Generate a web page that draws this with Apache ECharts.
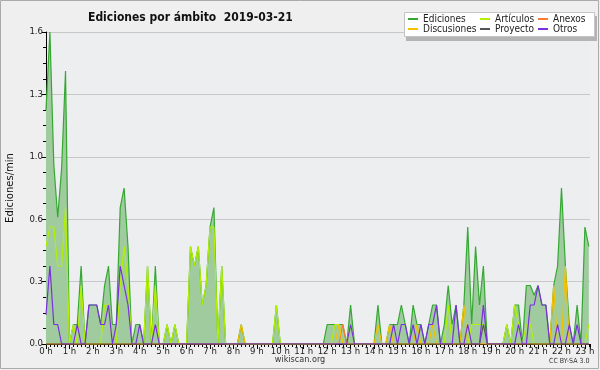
<!DOCTYPE html>
<html><head><meta charset="utf-8">
<script src="https://cdn.jsdelivr.net/npm/echarts@6/dist/echarts.min.js"></script>
<style>html,body{margin:0;padding:0;background:#efefef}#c{width:600px;height:370px}</style>
</head><body><div id="c"></div>
<script>
// 10-minute slots starting at 00:00
const hourLabels = ['0 h','1 h','2 h','3 h','4 h','5 h','6 h','7 h','8 h','9 h','10 h','11 h','12 h','13 h','14 h','15 h','16 h','17 h','18 h','19 h','20 h','21 h','22 h','23 h'];

const ediciones = [
1.2,1.6,0.92,0.65,0.9,1.4,0,0.1,0.1,0.4,
0,0.2,0.2,0.2,0.1,0.3,0.4,0.1,0.1,0.7,
0.8,0.5,0,0.1,0.1,0,0.4,0,0.4,0,
0,0.1,0,0.1,0,0,0,0.5,0.4,0.5,
0.2,0.3,0.6,0.7,0,0.4,0,0,0,0,
0.1,0,0,0,0,0,0,0,0,0.2,
0,0,0,0,0,0,0,0,0,0,
0,0,0.1,0.1,0.1,0.1,0.1,0,0.2,0,
0,0,0,0,0,0.2,0,0,0.1,0.1,
0.1,0.2,0.1,0,0.2,0.1,0.1,0,0.1,0.2,
0.2,0,0.1,0.3,0.1,0.2,0,0.2,0.6,0.1,
0.5,0.2,0.4,0,0,0,0,0,0.1,0,
0.2,0.2,0,0.3,0.3,0.25,0.3,0.2,0.2,0,
0.3,0.4,0.8,0.4,0.1,0,0.2,0,0.6,0.5
];
const articulos = [
0.5,0.6,0.6,0.4,0.4,0.7,0,0.1,0,0.3,
0,0,0,0,0,0.2,0.2,0,0,0.3,
0.5,0.3,0,0,0,0,0.4,0,0.3,0,
0,0.1,0,0.1,0,0,0,0.5,0.4,0.5,
0.2,0.3,0.6,0.6,0,0.4,0,0,0,0,
0,0,0,0,0,0,0,0,0,0.2,
0,0,0,0,0,0,0,0,0,0,
0,0,0,0,0.1,0.1,0,0,0.1,0,
0,0,0,0,0,0,0,0,0,0,
0,0,0,0,0,0,0,0,0,0,
0,0,0,0.2,0,0,0,0,0,0.1,
0.1,0.1,0.1,0,0,0,0,0,0.1,0,
0.2,0.1,0,0.1,0.1,0,0,0,0,0,
0,0,0,0,0,0,0,0,0,0.1
];
const anexos = [
0,0,0,0,0,0,0,0,0,0,
0,0,0,0,0,0,0,0,0,0,
0,0,0,0,0,0,0,0,0,0,
0,0,0,0,0,0,0,0,0,0,
0,0,0,0,0,0,0,0,0,0,
0,0,0,0,0,0,0,0,0,0,
0,0,0,0,0,0,0,0,0,0,
0,0,0,0,0,0,0.1,0,0,0,
0,0,0,0,0,0,0,0,0,0,
0,0,0,0,0,0,0,0,0,0,
0,0,0,0,0,0,0,0,0,0,
0,0,0,0,0,0,0,0,0,0,
0,0,0,0,0,0,0,0,0,0,
0,0,0,0,0,0,0,0,0,0
];
const discusiones = [
0,0,0,0,0,0,0,0,0,0,
0,0,0,0,0,0,0,0,0,0,
0,0,0,0,0,0,0,0,0,0,
0,0,0,0,0,0,0,0,0,0,
0,0,0,0,0,0,0,0,0,0,
0.1,0,0,0,0,0,0,0,0,0,
0,0,0,0,0,0,0,0,0,0,
0,0,0,0,0,0.1,0,0,0,0,
0,0,0,0,0,0.1,0,0,0.1,0,
0,0,0,0,0,0.1,0,0,0,0.1,
0,0,0,0,0,0,0,0.2,0,0,
0,0,0,0,0,0,0,0,0,0,
0,0,0,0,0,0,0,0,0,0,
0.3,0,0,0.4,0,0,0,0,0,0
];
const proyecto = [
0,0,0,0,0,0,0,0,0,0,
0,0,0,0,0,0,0,0,0,0,
0,0,0,0,0,0,0,0,0,0,
0,0,0,0,0,0,0,0,0,0,
0,0,0,0,0,0,0,0,0,0,
0,0,0,0,0,0,0,0,0,0,
0,0,0,0,0,0,0,0,0,0,
0,0,0,0,0,0,0,0,0,0,
0,0,0,0,0,0,0,0,0,0,
0,0,0,0,0,0,0,0,0,0,
0,0,0,0,0,0,0,0,0,0,
0,0,0.1,0,0,0,0,0,0,0,
0,0,0,0,0,0,0,0,0,0,
0,0,0,0,0,0,0,0,0,0
];
const otros = [
0.15,0.4,0.1,0.1,0,0,0,0,0.1,0,
0,0.2,0.2,0.2,0.1,0.1,0.2,0,0.1,0.4,
0.3,0.2,0,0,0.1,0,0,0,0.1,0,
0,0,0,0,0,0,0,0,0,0,
0,0,0,0,0,0,0,0,0,0,
0,0,0,0,0,0,0,0,0,0,
0,0,0,0,0,0,0,0,0,0,
0,0,0,0,0,0,0,0,0.1,0,
0,0,0,0,0,0,0,0,0,0.1,
0,0.1,0.1,0,0.1,0,0.1,0,0.1,0.1,
0.2,0,0,0,0,0.2,0,0,0.1,0,
0,0,0.2,0,0,0,0,0,0,0,
0,0.1,0,0,0.2,0.2,0.3,0.2,0.2,0,
0,0.1,0,0,0.1,0,0.1,0,0,0
];

const COL = {
  ed: '#35a832', art: '#b4f000', anx: '#ff7a30', disc: '#f5c000', proy: '#555555', otr: '#7b2fe0'
};
const pairs = arr => arr.map((v, i) => [i, v]);
const FONT = '"DejaVu Sans Condensed", "Liberation Sans", sans-serif';

function lineSeries(name, data, color, extra) {
  return Object.assign({
    name, type: 'line', data: pairs(data), showSymbol: false, symbol: 'none',
    lineStyle: { color, width: 1.2 }, itemStyle: { color }, animation: false, z: 3
  }, extra || {});
}

const chart = echarts.init(document.getElementById('c'), null, { renderer: 'canvas' });
const legendCommon = {
  orient: 'vertical', top: 14, itemGap: 0, itemWidth: 10, itemHeight: 2, icon: 'rect', z: 5,
  textStyle: { fontFamily: FONT, fontSize: 10, color: '#222' }, selectedMode: false, padding: 0
};
chart.setOption({
  backgroundColor: '#efefef',
  animation: false,
  title: {
    text: 'Ediciones por ámbito  2019-03-21', left: 83, top: 7,
    textStyle: { fontFamily: FONT, fontSize: 12, fontWeight: 'bold', color: '#111' }
  },
  legend: [
    Object.assign({ left: 408, data: ['Ediciones', 'Discusiones'] }, legendCommon),
    Object.assign({ left: 480, data: ['Artículos', 'Proyecto'] }, legendCommon),
    Object.assign({ left: 538, data: ['Anexos', 'Otros'] }, legendCommon)
  ],
  graphic: [
    { type: 'rect', z: -1, silent: true, shape: { x: 0.5, y: 0.5, width: 598, height: 368 }, style: { fill: 'none', stroke: '#aaa', lineWidth: 1 } },
    { type: 'rect', z: 0, silent: true, shape: { x: 406, y: 16, width: 191, height: 25 }, style: { fill: '#b4b4b4' } },
    { type: 'rect', z: 1, silent: true, shape: { x: 404.5, y: 12.5, width: 190, height: 24 }, style: { fill: '#fff', stroke: '#c4c4c4', lineWidth: 1 } },
    { type: 'text', left: 'center', top: 355, style: { text: 'wikiscan.org', font: '9px "DejaVu Sans Condensed", "Liberation Sans"', fill: '#333' } },
    { type: 'text', left: 549, top: 358, style: { text: 'CC BY-SA 3.0', font: '7px "DejaVu Sans Condensed", "Liberation Sans"', fill: '#333' } }
  ],
  grid: { left: 46, right: 10, top: 32, bottom: 26, containLabel: false, outerBoundsMode: 'none',
    show: true, backgroundColor: '#eceef0', borderWidth: 0 },
  xAxis: {
    type: 'value', min: 0, max: 139.3, interval: 6,
    axisLine: { lineStyle: { color: '#000', width: 1 } },
    axisTick: { length: 5, lineStyle: { color: '#000' } },
    minorTick: { show: true, splitNumber: 6, length: 3, lineStyle: { color: '#000' } },
    splitLine: { show: false },
    axisLabel: { fontFamily: FONT, fontSize: 9.5, color: '#222', margin: 3, showMaxLabel: false,
      formatter: v => hourLabels[Math.round(v / 6)] || '' }
  },
  yAxis: {
    type: 'value', min: 0, max: 1.6, interval: 0.32,
    name: 'Ediciones/min', nameLocation: 'middle', nameGap: 31,
    nameTextStyle: { fontFamily: '"DejaVu Sans"', fontSize: 10, color: '#111' },
    axisLine: { show: true, lineStyle: { color: '#000', width: 1 } },
    axisTick: { show: true, length: 4, lineStyle: { color: '#000' } },
    minorTick: { show: true, splitNumber: 4, length: 3, lineStyle: { color: '#000' } },
    splitLine: { lineStyle: { color: '#c8c8c8', width: 1 } },
    axisLabel: { fontFamily: FONT, fontSize: 9.5, color: '#222', margin: 3,
      formatter: v => v.toFixed(1) }
  },
  series: [
    lineSeries('Ediciones', ediciones, COL.ed, { areaStyle: { color: '#9fcb9f', opacity: 1 }, z: 2 }),
    lineSeries('Artículos', articulos, COL.art),
    lineSeries('Anexos', anexos, COL.anx),
    lineSeries('Discusiones', discusiones, COL.disc),
    lineSeries('Proyecto', proyecto, COL.proy),
    lineSeries('Otros', otros, COL.otr)
  ]
});
</script></body></html>
